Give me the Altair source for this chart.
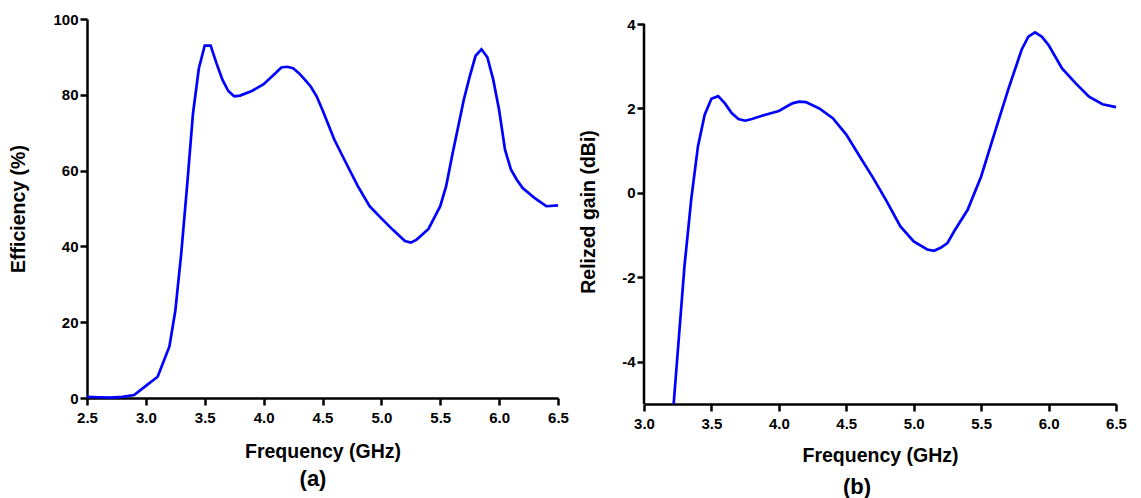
import altair as alt
import pandas as pd

# ---- data ----
freq_a = [2.5, 2.6, 2.7, 2.8, 2.9, 3.0, 3.1, 3.2, 3.25, 3.3, 3.35, 3.4, 3.45, 3.5, 3.55,
          3.6, 3.65, 3.7, 3.75, 3.8, 3.9, 4.0, 4.1, 4.15, 4.2, 4.25, 4.3, 4.35, 4.4, 4.45,
          4.5, 4.6, 4.7, 4.8, 4.9, 5.0, 5.1, 5.2, 5.25, 5.3, 5.4, 5.5, 5.55, 5.6, 5.7,
          5.75, 5.8, 5.85, 5.9, 5.95, 6.0, 6.05, 6.1, 6.15, 6.2, 6.3, 6.4, 6.5]
eff_a = [0.3, 0.2, 0.1, 0.3, 0.8, 3.2, 5.6, 13.6, 23, 38, 56, 75, 87, 93, 93,
         88.3, 84, 81, 79.6, 79.8, 81, 82.8, 85.7, 87.2, 87.4, 87, 85.7, 84, 82.2, 79.6,
         76, 68.2, 62, 55.9, 50.6, 47.4, 44.3, 41.4, 41, 41.8, 44.6, 50.6, 55.9, 63.8, 78.7,
         84.8, 90.3, 92, 89.9, 84, 76, 65.5, 60.3, 57.6, 55.4, 52.8, 50.6, 50.8]

freq_b = [3.22, 3.3, 3.35, 3.4, 3.45, 3.5, 3.55, 3.6, 3.65, 3.7, 3.75, 3.8, 3.9, 4.0,
          4.1, 4.15, 4.2, 4.3, 4.4, 4.5, 4.6, 4.7, 4.8, 4.9, 5.0, 5.1, 5.15, 5.2, 5.25,
          5.3, 5.4, 5.5, 5.6, 5.7, 5.8, 5.85, 5.9, 5.95, 6.0, 6.1, 6.2, 6.3, 6.4, 6.5]
gain_b = [-5.0, -1.74, -0.16, 1.1, 1.85, 2.23, 2.29, 2.12, 1.89, 1.75, 1.71, 1.75, 1.85, 1.94,
          2.12, 2.16, 2.15, 2.0, 1.77, 1.38, 0.86, 0.35, -0.2, -0.79, -1.15, -1.34, -1.37, -1.3, -1.19,
          -0.91, -0.4, 0.39, 1.42, 2.44, 3.39, 3.7, 3.8, 3.7, 3.5, 2.95, 2.6, 2.28, 2.1, 2.03]

x_ticks_a = [2.5, 3.0, 3.5, 4.0, 4.5, 5.0, 5.5, 6.0, 6.5]
y_ticks_a = [0, 20, 40, 60, 80, 100]
x_ticks_b = [3.0, 3.5, 4.0, 4.5, 5.0, 5.5, 6.0, 6.5]
y_ticks_b = [-4, -2, 0, 2, 4]
y_range_b = [-5, 4]
panel_labels = ["(a)", "(b)"]

FONT = "Liberation Sans"
BLUE = "#0000FF"

df_a = pd.DataFrame({"freq": freq_a, "eff": eff_a})
df_b = pd.DataFrame({"freq": freq_b, "gain": gain_b})

axis_common = dict(
    domain=True, domainColor="black", domainWidth=2.5, domainOpacity=1,
    ticks=True, tickColor="black", tickWidth=2.5, tickSize=7, tickOpacity=1,
    labelFont=FONT, labelFontSize=15, labelFontWeight="bold", labelColor="black",
    labelFlush=False,
    titleFont=FONT, titleFontSize=19.5, titleFontWeight="bold", titleColor="black",
    grid=False,
)

line_a = alt.Chart(df_a).mark_line(color=BLUE, strokeWidth=2.7).encode(
    x=alt.X("freq:Q", scale=alt.Scale(domain=[2.5, 6.5], nice=False, zero=False),
            axis=alt.Axis(title="Frequency (GHz)", values=x_ticks_a, format=".1f",
                          labelPadding=5, titlePadding=17, **axis_common)),
    y=alt.Y("eff:Q", scale=alt.Scale(domain=[0, 100], nice=False),
            axis=alt.Axis(title="Efficiency (%)", values=y_ticks_a, labelPadding=2,
                          titlePadding=24.5, **axis_common)),
)
text_a = alt.Chart(pd.DataFrame({"label": panel_labels[0:1]})).mark_text(
    font=FONT, fontSize=22, fontWeight="bold", color="black", baseline="alphabetic", align="center"
).encode(text="label:N", x=alt.value(226), y=alt.value(467))

chart_a = alt.layer(line_a, text_a).properties(width=471, height=379)

# right panel: plot area 5 px taller at the top (reference panel sits lower),
# axis line drawn as a rule from -5 to 4 only
top_b = 4 + 5 * 9 / 380
line_b = alt.Chart(df_b).mark_line(color=BLUE, strokeWidth=2.7).encode(
    x=alt.X("freq:Q", scale=alt.Scale(domain=[3.0, 6.5], nice=False, zero=False),
            axis=alt.Axis(title="Frequency (GHz)", values=x_ticks_b, format=".1f",
                          labelPadding=5, titlePadding=15, **axis_common)),
    y=alt.Y("gain:Q", scale=alt.Scale(domain=[-5, top_b], nice=False, zero=False),
            axis=alt.Axis(title="Relized gain (dBi)", values=y_ticks_b, labelPadding=2,
                          labelExpr="toString(datum.value)", titlePadding=23,
                          **{**axis_common, "domain": False})),
)
axis_rule_b = alt.Chart(pd.DataFrame({"gain": y_range_b[:1], "gain_hi": y_range_b[1:]})).mark_rule(
    color="black", strokeWidth=2.5
).encode(x=alt.value(0), y=alt.Y("gain:Q"), y2="gain_hi:Q")
text_b = alt.Chart(pd.DataFrame({"label": panel_labels[1:2]})).mark_text(
    font=FONT, fontSize=22, fontWeight="bold", color="black", baseline="alphabetic", align="center"
).encode(text="label:N", x=alt.value(213), y=alt.value(475))

chart_b = alt.layer(line_b, axis_rule_b, text_b).properties(width=472, height=385)

chart = alt.hconcat(chart_a, chart_b, spacing=9).properties(
    padding={"left": 8, "top": 12, "right": 5, "bottom": 0},
    background="white",
).configure_view(stroke=None)

chart.save("out.html", embed_options={"renderer": "svg", "actions": False})
